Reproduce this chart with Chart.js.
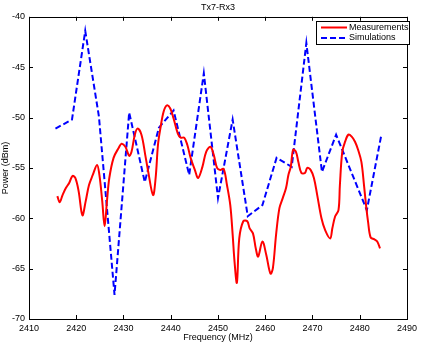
<!DOCTYPE html>
<html>
<head>
<meta charset="utf-8">
<script src="https://cdn.jsdelivr.net/npm/chart.js@4.4.1/dist/chart.umd.min.js"></script>
<style>
  html, body { margin: 0; padding: 0; background: #fff; }
  #wrap { width: 421px; height: 344px; }
</style>
</head>
<body>
<div id="wrap"><canvas id="chart" width="421" height="344"></canvas></div>
<script>
// values
var measFreq = [2416.0, 2416.5, 2417.1, 2417.8, 2418.5, 2419.2, 2419.8, 2420.5, 2421.3, 2422.0,
  2422.7, 2423.5, 2424.4, 2424.9, 2425.5, 2426.0, 2426.5, 2427.0, 2427.9, 2429.0,
  2429.6, 2430.4, 2431.2, 2431.7, 2432.4, 2433.0, 2433.8, 2434.6, 2435.2, 2436.25,
  2436.8, 2437.3, 2437.8, 2438.5, 2439.2, 2439.9, 2440.6, 2441.5, 2442.1, 2442.85,
  2443.5, 2444.2, 2445.1, 2445.8, 2446.7, 2447.5, 2448.4, 2449.1, 2449.8, 2450.5,
  2451.2, 2451.9, 2452.6, 2453.1, 2453.5, 2454.0, 2454.5, 2455.35, 2456.2, 2456.7,
  2457.4, 2458.0, 2458.5, 2459.4, 2460.2, 2461.1, 2461.6, 2462.3, 2463.0, 2463.7,
  2464.4, 2464.9, 2465.4, 2465.9, 2466.5, 2467.0, 2467.65, 2468.4, 2468.9, 2469.6,
  2470.3, 2471.0, 2471.9, 2472.7, 2473.75, 2474.2, 2474.8, 2475.5, 2475.8, 2476.3,
  2476.9, 2477.6, 2478.3, 2479.0, 2479.65, 2480.35, 2480.9, 2481.4, 2481.75, 2482.3,
  2483.1, 2483.7, 2484.3];
var measPower = [-57.8, -58.4, -57.7, -57.0, -56.5, -55.8, -56.0, -57.3, -59.7, -58.3,
  -56.7, -55.7, -54.7, -55.7, -58.3, -60.8, -58.3, -56.0, -54.0, -53.0,
  -52.6, -52.9, -53.8, -53.4, -51.7, -51.1, -51.7, -53.7, -55.3, -57.7,
  -56.0, -52.7, -51.1, -49.4, -48.8, -49.1, -50.1, -51.6, -52.0, -52.0,
  -52.7, -54.0, -55.2, -56.0, -54.9, -53.4, -52.9, -53.7, -55.0, -55.2,
  -55.1, -56.7, -58.7, -61.6, -64.3, -66.4, -62.0, -60.3, -60.3, -61.0,
  -61.5, -63.0, -63.8, -62.3, -63.6, -65.5, -65.0, -61.6, -59.0, -58.0,
  -57.0, -55.7, -54.9, -53.2, -53.4, -54.4, -55.5, -55.5, -55.0, -55.2,
  -56.0, -57.7, -60.0, -61.2, -62.0, -61.0, -59.8, -59.2, -56.7, -53.4,
  -52.4, -51.7, -51.9, -52.4, -53.2, -54.4, -56.7, -59.0, -60.3, -61.9,
  -62.1, -62.3, -63.0];

var simFreq = [2415.6, 2419.1, 2421.9, 2424.8, 2428.1, 2431.2, 2434.5, 2437.5, 2440.6, 2443.9,
  2447.0, 2450.0, 2453.1, 2456.3, 2459.4, 2462.4, 2465.6, 2468.7, 2472.0, 2475.0,
  2478.2, 2481.5, 2484.5];
var simPower = [-51.1, -50.2, -41.4, -49.9, -67.6, -49.5, -56.4, -51.0, -49.3, -55.7,
  -45.6, -58.0, -50.2, -59.8, -58.7, -54.0, -54.9, -42.6, -55.4, -51.7,
  -55.4, -59.2, -51.9];

var xTicks = [2410, 2420, 2430, 2440, 2450, 2460, 2470, 2480, 2490];
var yTicks = [-70, -65, -60, -55, -50, -45, -40];

function toPoints(xs, ys) {
  var pts = [];
  for (var i = 0; i < xs.length; i++) pts.push({ x: xs[i], y: ys[i] });
  return pts;
}

Chart.defaults.font.family = '"Liberation Sans", Arial, Helvetica, sans-serif';
Chart.defaults.font.size = 9;
Chart.defaults.color = '#000';

// matlab style box with inward ticks + legend in the top right corner
var boxPlugin = {
  id: 'box',
  afterDraw: function(chart) {
    var ctx = chart.ctx;
    var a = chart.chartArea;
    var xs = chart.scales.x, ys = chart.scales.y;
    ctx.save();
    ctx.strokeStyle = '#000';
    ctx.lineWidth = 1;
    ctx.strokeRect(Math.round(a.left) + 0.5, Math.round(a.top) + 0.5,
      Math.round(a.right - a.left), Math.round(a.bottom - a.top));
    ctx.beginPath();
    xTicks.forEach(function(v) {
      var px = Math.round(xs.getPixelForValue(v)) + 0.5;
      ctx.moveTo(px, a.bottom); ctx.lineTo(px, a.bottom - 4);
      ctx.moveTo(px, a.top); ctx.lineTo(px, a.top + 4);
    });
    yTicks.forEach(function(v) {
      var py = Math.round(ys.getPixelForValue(v)) + 0.5;
      ctx.moveTo(a.left, py); ctx.lineTo(a.left + 4, py);
      ctx.moveTo(a.right, py); ctx.lineTo(a.right - 4, py);
    });
    ctx.stroke();

    // legend
    var lx = 316.5, ly = 21.5, lw = 93, lh = 23;
    ctx.fillStyle = '#fff';
    ctx.fillRect(lx, ly, lw, lh);
    ctx.strokeRect(lx, ly, lw, lh);
    ctx.font = '9px "Liberation Sans", Arial, sans-serif';
    ctx.textBaseline = 'middle';
    chart.data.datasets.forEach(function(ds, i) {
      var ry = 27.5 + i * 10.5;
      ctx.beginPath();
      ctx.strokeStyle = ds.borderColor;
      ctx.lineWidth = ds.borderWidth;
      ctx.setLineDash(ds.borderDash || []);
      ctx.moveTo(321, ry); ctx.lineTo(347, ry);
      ctx.stroke();
      ctx.setLineDash([]);
      ctx.fillStyle = '#000';
      ctx.fillText(ds.label, 349, ry);
    });
    ctx.restore();
  }
};

var chart = new Chart(document.getElementById('chart').getContext('2d'), {
  type: 'line',
  data: {
    datasets: [
      {
        label: 'Measurements',
        data: toPoints(measFreq, measPower),
        borderColor: '#ff0000',
        borderWidth: 2,
        pointRadius: 0,
        tension: 0.35,
        fill: false
      },
      {
        label: 'Simulations',
        data: toPoints(simFreq, simPower),
        borderColor: '#0000ff',
        borderWidth: 2,
        borderDash: [6, 3],
        pointRadius: 0,
        tension: 0,
        fill: false
      }
    ]
  },
  options: {
    responsive: false,
    animation: false,
    layout: { padding: { left: 0, right: 8, top: 0, bottom: 0 } },
    plugins: {
      legend: { display: false },
      tooltip: { enabled: false },
      title: {
        display: true,
        text: 'Tx7-Rx3',
        fullSize: false,
        font: { size: 9, weight: 'normal' },
        color: '#000',
        padding: { top: 2, bottom: 4 }
      }
    },
    scales: {
      x: {
        type: 'linear',
        min: 2410,
        max: 2490,
        afterBuildTicks: function(s) { s.ticks = xTicks.map(function(v) { return { value: v }; }); },
        afterFit: function(s) { s.height = 25; },
        grid: { display: false, drawTicks: false },
        border: { display: false },
        ticks: { padding: 4, maxRotation: 0, autoSkip: false, callback: function(v) { return v; } },
        title: { display: true, text: 'Frequency (MHz)', font: { size: 9 }, padding: { top: 0, bottom: 1 } }
      },
      y: {
        min: -70,
        max: -40,
        afterBuildTicks: function(s) { s.ticks = yTicks.map(function(v) { return { value: v }; }); },
        afterFit: function(s) { s.width = 29; },
        grid: { display: false, drawTicks: false },
        border: { display: false },
        ticks: { padding: 4, autoSkip: false },
        title: { display: true, text: 'Power (dBm)', font: { size: 9 }, padding: { top: 0, bottom: 0 } }
      }
    }
  },
  plugins: [boxPlugin]
});
</script>
</body>
</html>
